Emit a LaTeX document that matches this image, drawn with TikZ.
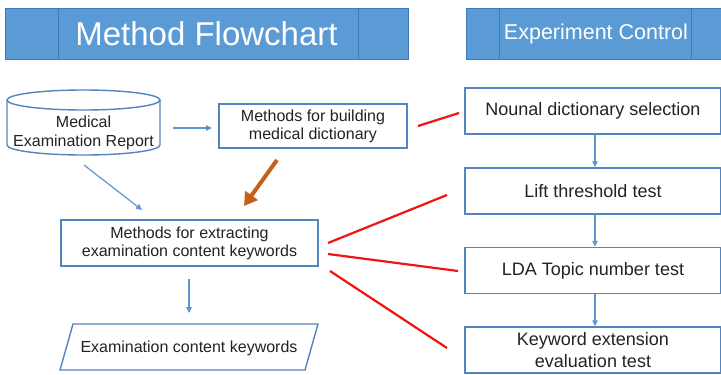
\documentclass[tikz,border=0pt]{standalone}
\usepackage{fontspec}
\setmainfont{Liberation Sans}
\usetikzlibrary{arrows.meta}
\definecolor{hdr}{RGB}{91,155,213}
\definecolor{hdrline}{RGB}{68,120,180}
\definecolor{bbord}{RGB}{84,132,192}
\definecolor{barr}{RGB}{91,150,210}
\definecolor{oarr}{RGB}{197,96,26}
\definecolor{txt}{RGB}{35,35,35}
\definecolor{redl}{RGB}{240,20,20}
\begin{document}
\begin{tikzpicture}[x=1pt,y=-1pt,
  hdrbox/.style={draw=hdrline,fill=hdr,line width=0.8pt},
  hdrtext/.style={text=white,inner sep=0pt},
  leftbox/.style={draw=bbord,line width=1.4pt,fill=white,text=txt,align=center,inner sep=0pt,
    font=\fontsize{16}{18}\selectfont},
  rightbox/.style={draw=bbord,line width=1.4pt,fill=white,text=txt,align=center,inner sep=0pt,
    minimum width=256pt,minimum height=46pt,font=\fontsize{18}{22}\selectfont},
  barrow/.style={draw=barr,line width=1.2pt,-{Triangle[length=6pt,width=5.5pt]}},
  oarrow/.style={draw=oarr,line width=4pt,-{Triangle[length=13pt,width=15pt]}},
  redline/.style={draw=redl,line width=2.2pt}]
\useasboundingbox (0,0) rectangle (721,375);
\fill[white] (0,0) rectangle (721,375);

% headers
\node[hdrbox,minimum width=403pt,minimum height=51pt,inner sep=0pt] (h1) at (206.5,33.5) {};
\draw[hdrline,line width=0.8pt] (58,8) -- (58,59) (358,8) -- (358,59);
\node[hdrtext,font=\fontsize{33}{36}\selectfont] (h1t) at (206.5,34) {Method Flowchart};
\node[hdrbox,minimum width=256pt,minimum height=51pt,inner sep=0pt] (h2) at (594,33.5) {};
\draw[hdrline,line width=0.8pt] (499,8) -- (499,59) (691,8) -- (691,59);
\node[hdrtext,font=\fontsize{21.5}{24}\selectfont] (h2t) at (596,34) {Experiment Control};

% cylinder
\draw[bbord,line width=1.4pt,fill=white] (7,100) -- (7,145) arc[start angle=180,end angle=0,x radius=76.5,y radius=10] -- (160,100);
\draw[bbord,line width=1.4pt,fill=white] (83.5,100) ellipse[x radius=76.5,y radius=10];
\node[text=txt,align=center,inner sep=0pt,font=\fontsize{16}{19}\selectfont,minimum width=153pt] (mer) at (83.5,133) {Medical\\Examination Report};

% left boxes
\node[leftbox,minimum width=188pt,minimum height=44pt] (build) at (313,126) {Methods for building\\medical dictionary};
\node[leftbox,minimum width=257pt,minimum height=46pt] (ext) at (189.5,243) {Methods for extracting\\examination content keywords};
\draw[bbord,line width=1.4pt,fill=white] (73,324) -- (318,324) -- (305,370) -- (60,370) -- cycle;
\node[text=txt,inner sep=0pt,font=\fontsize{16}{18}\selectfont] (kw) at (189,348) {Examination content keywords};

% right boxes
\node[rightbox] (nds) at (593,111) {Nounal dictionary selection};
\node[rightbox] (lift) at (593,191) {Lift threshold test};
\node[rightbox] (lda) at (593,270.5) {LDA Topic number test};
\node[rightbox] (kee) at (593,350) {Keyword extension\\evaluation test};

% blue arrows
\coordinate (c1s) at (173,128); \coordinate (c1e) at (212,128);
\draw[barrow] (c1s) -- (c1e);
\coordinate (c2s) at (84,165); \coordinate (c2e) at (142,210);
\draw[barrow] (c2s) -- (c2e);
\coordinate (c3s) at (189,279); \coordinate (c3e) at (189,313);
\draw[barrow] (c3s) -- (c3e);
\draw[barrow] (nds.south -| 595,0) -- (lift.north -| 595,0);
\draw[barrow] (lift.south -| 595,0) -- (lda.north -| 595,0);
\draw[barrow] (lda.south -| 595,0) -- (kee.north -| 595,0);

% orange arrow
\coordinate (o1) at (277,160); \coordinate (o2) at (244,206);
\draw[oarrow] (o1) -- (o2);

% red lines
\coordinate (r1s) at (418,126); \coordinate (r1e) at (459,113);
\draw[redline] (r1s) -- (r1e);
\coordinate (r2s) at (328,243); \coordinate (r2e) at (447,195);
\draw[redline] (r2s) -- (r2e);
\coordinate (r3s) at (328,254); \coordinate (r3e) at (458,271);
\draw[redline] (r3s) -- (r3e);
\coordinate (r4s) at (330,271); \coordinate (r4e) at (447,348);
\draw[redline] (r4s) -- (r4e);
\end{tikzpicture}
\end{document}
